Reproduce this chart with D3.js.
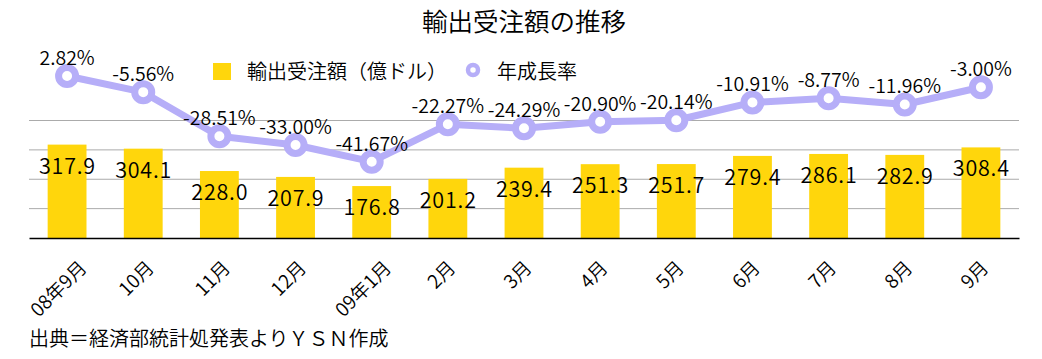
<!DOCTYPE html>
<html><head><meta charset="utf-8">
<script src="https://cdn.jsdelivr.net/npm/d3@7"></script>
<style>
html,body{margin:0;padding:0;background:#fff;}
text{font-family:"Noto Sans CJK JP","Noto Sans",sans-serif;fill:#000;font-weight:350;}
</style></head>
<body><svg id="c" width="1042" height="359"></svg>
<script>
const categories = ["08年9月","10月","11月","12月","09年1月","2月","3月","4月","5月","6月","7月","8月","9月"];
const orders = [317.9,304.1,228.0,207.9,176.8,201.2,239.4,251.3,251.7,279.4,286.1,282.9,308.4];
const growth = [2.82,-5.56,-28.51,-33.00,-41.67,-22.27,-24.29,-20.90,-20.14,-10.91,-8.77,-11.96,-3.00];
const gridTicks = [100,200,300,400];
const title = "輸出受注額の推移";
const legendLabels = ["輸出受注額（億ドル）","年成長率"];
const sourceNote = "出典＝経済部統計処発表よりＹＳＮ作成";

const yellow = "#FFD60C", lav = "#B6AEF8";
const svg = d3.select("#c");
const x = d3.scaleBand().domain(categories).range([29,1019]).paddingInner(0.49).paddingOuter(0.245);
const y = d3.scaleLinear().domain([0,400]).range([238,120.5]);
const yr = d3.scaleLinear().domain([-50,10]).range([177.7,62.2]);
const cx = c => x(c) + x.bandwidth()/2;

// gridlines
svg.append("g").selectAll("line").data(gridTicks).join("line")
  .attr("x1",29).attr("x2",1019).attr("y1",d=>y(d)).attr("y2",d=>y(d))
  .attr("stroke","#ababab").attr("stroke-width",1);

// bars
svg.append("g").selectAll("rect").data(orders).join("rect")
  .attr("x",(d,i)=>x(categories[i])).attr("width",x.bandwidth())
  .attr("y",d=>y(d)).attr("height",d=>y(0)-y(d)).attr("fill",yellow);

// baseline axis
const xAxis = svg.append("g").attr("transform",`translate(0,${y(0)})`)
  .call(d3.axisBottom(x).tickSize(0).tickFormat(""));
xAxis.select(".domain").attr("stroke","#000").attr("stroke-width",1.5);

// x labels rotated
const xl = svg.append("g").selectAll("text").data(categories).join("text")
  .attr("font-size",19).attr("text-anchor","end").text(d=>d);
xl.each(function(d){
  const w = this.getComputedTextLength();
  const px = cx(d) + 0.3*w, py = 269;
  d3.select(this).attr("transform",`translate(${px},${py}) rotate(-45)`);
});

// line
const line = d3.line().x((d,i)=>cx(categories[i])).y(d=>yr(d));
svg.append("path").datum(growth).attr("d",line).attr("fill","none")
  .attr("stroke",lav).attr("stroke-width",7).attr("stroke-linejoin","round");
svg.append("g").selectAll("circle").data(growth).join("circle")
  .attr("cx",(d,i)=>cx(categories[i])).attr("cy",d=>yr(d)).attr("r",8.5)
  .attr("fill","#fff").attr("stroke",lav).attr("stroke-width",7);

// bar labels
svg.append("g").selectAll("text").data(orders).join("text")
  .attr("x",(d,i)=>cx(categories[i])+0.4).attr("y",d=>y(d)+19.5)
  .attr("text-anchor","middle").attr("dominant-baseline","central")
  .attr("font-size",21.5).attr("letter-spacing",0.8).text(d=>d.toFixed(1));

// rate labels
svg.append("g").selectAll("text").data(growth).join("text")
  .attr("x",(d,i)=>cx(categories[i])).attr("y",d=>yr(d)-19.5)
  .attr("text-anchor","middle").attr("dominant-baseline","central")
  .attr("font-size",19.5).text(d=>d.toFixed(2)+"%");

// title
svg.append("text").attr("x",524).attr("y",19).attr("text-anchor","middle")
  .attr("dominant-baseline","central").attr("font-size",25.5).text(title);

// legend
svg.append("rect").attr("x",213).attr("y",63).attr("width",18).attr("height",17).attr("fill",yellow);
svg.append("text").attr("x",247).attr("y",70).attr("dominant-baseline","central")
  .attr("font-size",20).text(legendLabels[0]);
svg.append("circle").attr("cx",473).attr("cy",70).attr("r",5).attr("fill","#fff")
  .attr("stroke",lav).attr("stroke-width",4.5);
svg.append("text").attr("x",497).attr("y",70).attr("dominant-baseline","central")
  .attr("font-size",20).text(legendLabels[1]);

// source
svg.append("text").attr("x",29).attr("y",337).attr("dominant-baseline","central")
  .attr("font-size",20).text(sourceNote);
</script></body></html>
